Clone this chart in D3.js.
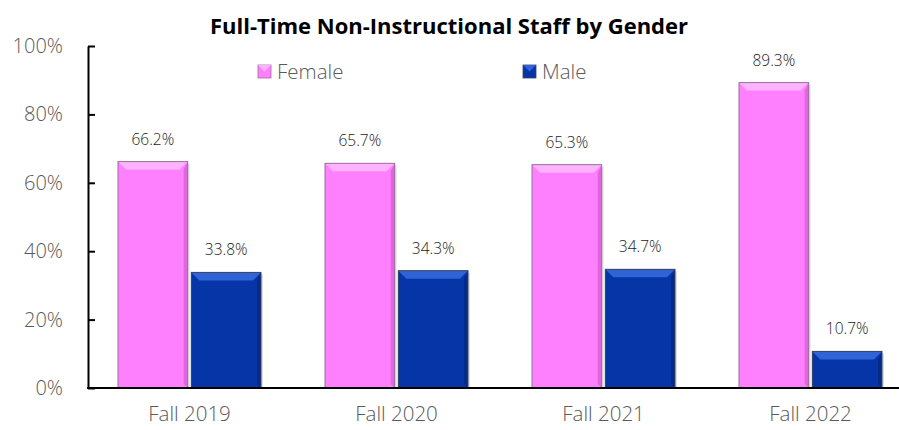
<!DOCTYPE html>
<meta charset="utf-8">
<style>
body { margin: 0; background: #fff; }
text { font-family: "Open Sans", "DejaVu Sans", sans-serif; }
</style>
<body>
<svg width="899" height="430"></svg>
</body>
<script src="https://d3js.org/d3.v7.min.js"></script>
<script>
const categories = ["Fall 2019", "Fall 2020", "Fall 2021", "Fall 2022"];
const seriesNames = ["Female", "Male"];
const femaleValues = [66.2, 65.7, 65.3, 89.3];
const maleValues = [33.8, 34.3, 34.7, 10.7];
const yTicks = [0, 20, 40, 60, 80, 100];

const colors = {
    Female: { base: "#ff80ff", light: "#ffb3ff", dark: "#e066e0", edge: "#9a6f9a" },
    Male: { base: "#0535a6", light: "#2f63d6", dark: "#032a86", edge: "#3a4460" }
};

const svg = d3.select("svg");
const plotLeft = 88, plotTop = 46, plotBottom = 388;

const y = d3.scaleLinear().domain([0, 100]).range([plotBottom, plotTop]);
const x0 = d3.scaleBand().domain(categories).range([86, 914]);
const x1 = d3.scaleBand().domain(seriesNames).range([0, 143]).paddingInner(0.05);
const offset = (x0.bandwidth() - 143) / 2;

// title
svg.append("text")
    .attr("x", 449).attr("y", 34)
    .attr("text-anchor", "middle")
    .attr("font-size", 22)
    .attr("font-weight", "bold")
    .attr("fill", "#000")
    .text("Full-Time Non-Instructional Staff by Gender");

// rows of data
const rows = [];
categories.forEach((c, i) => {
    rows.push({ cat: c, s: "Female", v: femaleValues[i] });
    rows.push({ cat: c, s: "Male", v: maleValues[i] });
});

// bars with a bevel look
const bars = svg.append("g").selectAll("g").data(rows).enter().append("g");
bars.each(function (d) {
    const g = d3.select(this);
    const bx = x0(d.cat) + offset + x1(d.s);
    const bw = x1.bandwidth();
    const by = y(d.v);
    const bh = plotBottom - by;
    const b = Math.min(8, bh / 2);
    const c = colors[d.s];
    // shadow
    g.append("rect").attr("x", bx + 2).attr("y", by + 2).attr("width", bw).attr("height", bh - 2)
        .attr("fill", "#000").attr("opacity", 0.12);
    g.append("rect").attr("x", bx).attr("y", by).attr("width", bw).attr("height", bh)
        .attr("fill", c.base);
    // top bevel
    g.append("polygon")
        .attr("points", [[bx, by], [bx + bw, by], [bx + bw - b, by + b], [bx + b, by + b]].join(" "))
        .attr("fill", c.light);
    // left / right bevels
    g.append("polygon")
        .attr("points", [[bx, by], [bx + b / 2, by + b], [bx + b / 2, plotBottom - b / 2], [bx, plotBottom]].join(" "))
        .attr("fill", c.base).attr("opacity", 0.9);
    g.append("polygon")
        .attr("points", [[bx + bw, by], [bx + bw - b / 2, by + b], [bx + bw - b / 2, plotBottom - b / 2], [bx + bw, plotBottom]].join(" "))
        .attr("fill", c.dark);
    g.append("rect").attr("x", bx).attr("y", by).attr("width", bw).attr("height", bh)
        .attr("fill", "none").attr("stroke", c.edge).attr("stroke-width", 1);
});

// data labels
svg.append("g").selectAll("text").data(rows).enter().append("text")
    .attr("x", d => x0(d.cat) + offset + x1(d.s) + x1.bandwidth() / 2)
    .attr("y", d => y(d.v) - 17)
    .attr("text-anchor", "middle")
    .attr("font-size", 15.5)
    .attr("font-weight", 300)
    .attr("fill", "#1a1a1a")
    .text(d => d.v.toFixed(1) + "%");

// y axis
const yAxis = svg.append("g")
    .attr("transform", `translate(${plotLeft},0)`)
    .call(d3.axisLeft(y).tickValues(yTicks).tickFormat(d => d + "%").tickSizeInner(-7).tickSizeOuter(0).tickPadding(25));
yAxis.select(".domain").attr("stroke", "#000").attr("stroke-width", 2);
yAxis.selectAll(".tick line").attr("stroke", "#000").attr("stroke-width", 2);
yAxis.selectAll(".tick text").attr("font-size", 20).attr("font-weight", 300).attr("fill", "#595959")
    .attr("font-family", "'Open Sans', sans-serif");

// x axis
const xAxis = svg.append("g")
    .attr("transform", `translate(0,${plotBottom})`)
    .call(d3.axisBottom(x0).tickSize(0).tickPadding(18));
xAxis.select(".domain").attr("d", `M${plotLeft - 1},0H899`).attr("stroke", "#000").attr("stroke-width", 2);
xAxis.selectAll(".tick text").attr("font-size", 20.5).attr("font-weight", 300).attr("fill", "#595959")
    .attr("font-family", "'Open Sans', sans-serif");

// legend
const legendX = [258, 523];
const legend = svg.append("g").selectAll("g").data(seriesNames).enter().append("g")
    .attr("transform", (d, i) => `translate(${legendX[i]},65)`);
legend.append("rect").attr("width", 13).attr("height", 13)
    .attr("fill", d => colors[d].base).attr("stroke", d => colors[d].edge).attr("stroke-width", 0.8);
legend.append("polygon").attr("points", "0,0 13,0 6.5,6.5").attr("fill", d => colors[d].light);
legend.append("text").attr("x", 19).attr("y", 14)
    .attr("font-size", 20.5).attr("font-weight", 300).attr("fill", "#595959")
    .text(d => d);
</script>
